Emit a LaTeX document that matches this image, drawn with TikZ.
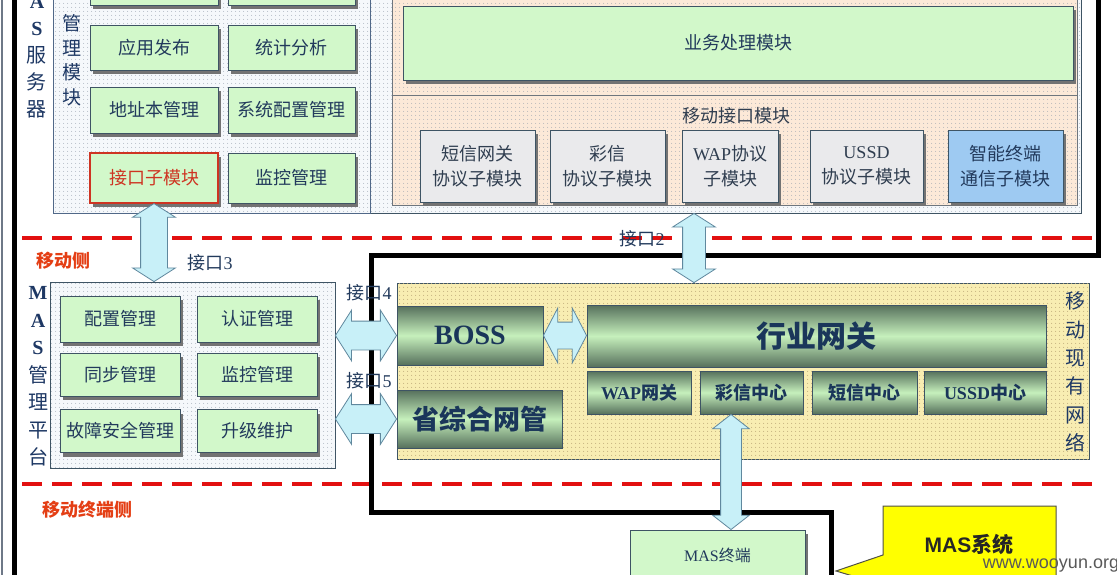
\documentclass[tikz,border=0pt]{standalone}
\usepackage{fontspec}
\setmainfont{Noto Sans CJK SC}
\newfontfamily\latinserif{Liberation Serif}
\newfontfamily\latinsans{Liberation Sans}
\usetikzlibrary{calc,shapes.arrows,shadows,patterns.meta}

\definecolor{boxgreen}{RGB}{210,248,202}
\definecolor{boxline}{RGB}{62,84,100}
\definecolor{boxtext}{RGB}{34,58,92}
\definecolor{graytext}{RGB}{48,62,80}
\definecolor{boxgray}{RGB}{234,234,236}
\definecolor{boxblue}{RGB}{158,202,242}
\definecolor{ifred}{RGB}{206,52,34}
\definecolor{dotbg}{RGB}{245,248,251}
\definecolor{dotfg}{RGB}{150,160,172}
\definecolor{mgrline}{RGB}{80,104,136}
\definecolor{peach}{RGB}{252,233,216}
\definecolor{peachline}{RGB}{110,118,126}
\definecolor{netbg}{RGB}{248,237,178}
\definecolor{netdot}{RGB}{212,180,104}
\definecolor{netlt}{RGB}{198,240,188}
\definecolor{netdk}{RGB}{86,112,92}
\definecolor{nettext}{RGB}{26,54,90}
\definecolor{vtext}{RGB}{30,56,100}
\definecolor{arrfill}{RGB}{200,240,248}
\definecolor{arrline}{RGB}{96,136,158}
\definecolor{sidered}{RGB}{228,62,20}
\definecolor{dashred}{RGB}{226,16,16}
\definecolor{framegray}{RGB}{110,120,135}
\definecolor{callyellow}{RGB}{255,255,0}
\definecolor{callline}{RGB}{80,80,70}

\tikzset{
	modbox/.style={draw=boxline, line width=0.9pt, fill=boxgreen, inner sep=0pt, align=center,
		font=\fontsize{18}{25}\selectfont, text=boxtext,
		drop shadow={shadow xshift=3pt, shadow yshift=-4pt, fill=black!55, opacity=1}},
	protobox/.style={modbox, fill=boxgray, text=graytext},
	netbox/.style={draw=boxline, line width=0.9pt, top color=netdk, bottom color=netdk, middle color=netlt,
		inner sep=0pt, text=nettext, font=\fontsize{18}{22}\selectfont\bfseries},
	dotarea/.style={fill=#1, postaction={pattern={Dots[distance=4pt,radius=0.55pt]}, pattern color=dotfg}},
	vlabel/.style={align=center, inner sep=0pt, text=vtext, font=\fontsize{20}{27}\selectfont},
	sidelabel/.style={text=sidered, font=\fontsize{18}{20}\selectfont\bfseries},
	iflabel/.style={text=boxtext, font=\fontsize{18}{20}\selectfont},
	fatarr/.style={double arrow, draw=arrline, fill=arrfill, line width=0.8pt, inner xsep=0pt,
		double arrow tip angle=115},
	massys/.style={line width=5pt, line join=miter, black},
	sideline/.style={line width=4.5pt, dashred, dash pattern=on 20pt off 10pt},
}

% fat double arrow between two points: [options]{name}{from}{to}
\newcommand{\fatlink}[4][]{%
	\path let \p1=#3, \p2=#4, \n1={veclen(\x2-\x1,\y2-\y1)} in
		node[fatarr,#1,minimum height=\n1] (#2) at ($(\p1)!.5!(\p2)$) {};}

\begin{document}
\begin{tikzpicture}[x=1pt,y=-1pt]
	\useasboundingbox (0,0) rectangle (1117,575);
	\clip (0,0) rectangle (1117,575);
	\fill[white] (0,0) rectangle (1117,575);
	\draw[line width=2pt, framegray] (1.5,0) -- (1.5,575);

	% MAS server
	\node[dotarea=dotbg, draw=boxline, line width=0.8pt, minimum width=1028, minimum height=223, inner sep=0pt] (srv) at (567,101.5) {};
	\node[dotarea=dotbg, draw=mgrline, line width=1pt, minimum width=317, minimum height=223, inner sep=0pt] (mgr) at (211.5,101.5) {};
	\node[dotarea=peach, draw=peachline, line width=0.8pt, minimum width=685, minimum height=210, inner sep=0pt] (mif) at (734.5,100) {};
	\draw[peachline, line width=0.8pt] (392,95) -- (1077,95);
	\node[vlabel] (srvlabel) at (37,43.5) {{\latinserif\bfseries M}\\{\latinserif\bfseries A}\\{\latinserif\bfseries S}\\服\\务\\器};
	\node[vlabel, font=\fontsize{19}{24.5}\selectfont] (mgrlabel) at (72,60.5) {管\\理\\模\\块};

	% management modules
	\node[modbox, minimum width=128, minimum height=45] (topa) at (154,-17.5) {};
	\node[modbox, minimum width=127, minimum height=45] (topb) at (291.5,-17.5) {};
	\node[modbox, minimum width=128, minimum height=45] (pub) at (154,47.5) {应用发布};
	\node[modbox, minimum width=127, minimum height=45] (stat) at (291.5,47.5) {统计分析};
	\node[modbox, minimum width=128, minimum height=46] (addr) at (154,110) {地址本管理};
	\node[modbox, minimum width=127, minimum height=46] (syscfg) at (291.5,110) {系统配置管理};
	\node[modbox, draw=ifred, text=ifred, line width=1.2pt, minimum width=128, minimum height=50] (ifsub) at (154,178) {接口子模块};
	\node[modbox, minimum width=127, minimum height=50] (mon) at (291.5,178) {监控管理};

	% mobile interface modules
	\node[modbox, minimum width=670, minimum height=74] (biz) at (738,43) {业务处理模块};
	\node[iflabel, text=graytext] (miflabel) at (736,116) {移动接口模块};
	\node[protobox, minimum width=115, minimum height=72] (smsp) at (477.5,166) {短信网关\\协议子模块};
	\node[protobox, minimum width=115, minimum height=72] (mmsp) at (607.5,166) {彩信\\协议子模块};
	\node[protobox, minimum width=96, minimum height=72] (wapp) at (730,166) {{\latinserif WAP}协议\\子模块};
	\node[protobox, minimum width=113, minimum height=72] (ussdp) at (866.5,166) {{\latinserif USSD}\\协议子模块};
	\node[protobox, fill=boxblue, text=boxtext, minimum width=115, minimum height=72] (smart) at (1005.5,166) {智能终端\\通信子模块};

	% MAS management platform
	\node[dotarea=dotbg, draw=boxline, line width=0.8pt, minimum width=285, minimum height=186, inner sep=0pt] (plat) at (192.5,375) {};
	\node[vlabel, font=\fontsize{20}{27.5}\selectfont] (platlabel) at (38,376.5) {{\latinserif\bfseries M}\\{\latinserif\bfseries A}\\{\latinserif\bfseries S}\\管\\理\\平\\台};
	\node[modbox, minimum width=120, minimum height=46] (cfg) at (120,319) {配置管理};
	\node[modbox, minimum width=120, minimum height=46] (auth) at (257,319) {认证管理};
	\node[modbox, minimum width=120, minimum height=43] (sync) at (120,374.5) {同步管理};
	\node[modbox, minimum width=120, minimum height=43] (pmon) at (257,374.5) {监控管理};
	\node[modbox, minimum width=120, minimum height=43] (fault) at (120,431) {故障安全管理};
	\node[modbox, minimum width=120, minimum height=43] (upg) at (257,431) {升级维护};

	% existing mobile network
	\node[dotarea=netbg, postaction={pattern={Dots[distance=4pt,radius=0.55pt]}, pattern color=netdot}, draw=boxline, line width=0.8pt, minimum width=692, minimum height=176, inner sep=0pt] (net) at (743,371) {};
	\node[vlabel, font=\fontsize{20}{28.4}\selectfont] (netlabel) at (1075,372) {移\\动\\现\\有\\网\\络};
	\node[netbox, minimum width=146, minimum height=59, font=\latinserif\fontsize{28}{30}\selectfont\bfseries] (boss) at (470,335.5) {BOSS};
	\node[netbox, minimum width=165, minimum height=58, font=\fontsize{27}{30}\selectfont\bfseries] (nms) at (479.5,419) {省综合网管};
	\node[netbox, minimum width=459, minimum height=62, font=\fontsize{30}{32}\selectfont\bfseries] (ind) at (816.5,336) {行业网关};
	\node[netbox, minimum width=104, minimum height=43] (wapgw) at (639,392.5) {{\latinserif WAP}网关};
	\node[netbox, minimum width=103, minimum height=43] (mmsc) at (751.5,392.5) {彩信中心};
	\node[netbox, minimum width=105, minimum height=43] (smsc) at (864.5,392.5) {短信中心};
	\node[netbox, minimum width=122, minimum height=43] (ussdc) at (985,392.5) {{\latinserif USSD}中心};

	% MAS terminal
	\node[modbox, minimum width=175, minimum height=50, font=\fontsize{16}{18}\selectfont] (term) at (717.5,555) {{\latinserif MAS}终端};

	% boundaries
	\draw[sideline] (22,238) -- (1097,238);
	\draw[sideline] (22,484) -- (1102,484);
	\draw[massys] (14,-10) -- (14,585);
	\draw[massys] (1098,-10) -- (1098,255) -- (371,255) -- (371,512) -- (831,512) -- (831,585);

	% interfaces
	\coordinate (ia) at (694,0);
	\coordinate (ib) at (731,0);
	\fatlink[rotate=90, inner ysep=13pt, double arrow head extend=8pt]{arrthree}{(ifsub.south)}{(ifsub.south |- plat.north)}
	\fatlink[rotate=90, inner ysep=11pt, double arrow head extend=10pt]{arrtwo}{(ia |- srv.south)}{(ia |- net.north)}
	\fatlink[inner ysep=14pt, double arrow head extend=11pt]{arrfour}{(boss.west -| plat.east)}{(boss.west)}
	\fatlink[inner ysep=14pt, double arrow head extend=11pt]{arrfive}{(nms.west -| plat.east)}{(nms.west)}
	\fatlink[inner ysep=13pt, double arrow head extend=14pt, double arrow tip angle=125]{arrboss}{(boss.east)}{(boss.east -| ind.west)}
	\fatlink[rotate=90, inner ysep=10pt, double arrow head extend=8pt, double arrow tip angle=104]{arrterm}{(ib |- mmsc.south)}{(ib |- term.north)}

	% labels
	\node[sidelabel] (mobside) at (63,261) {移动侧};
	\node[sidelabel] (termside) at (87,510) {移动终端侧};
	\node[iflabel] (ifthree) at (210,263) {接口{\latinserif 3}};
	\node[iflabel] (iftwo) at (642,239) {接口{\latinserif 2}};
	\node[iflabel] (iffour) at (369,293) {接口{\latinserif 4}};
	\node[iflabel] (iffive) at (369,381) {接口{\latinserif 5}};

	% MAS system callout
	\filldraw[fill=callyellow, draw=callline, line width=1pt] (883,506) -- (1056,506) -- (1056,590) -- (883,590) -- (883,585) -- (836,571) -- (883,555) -- cycle;
	\node[font=\fontsize{21}{24}\selectfont\bfseries, text=black!85] (mastext) at (969,544) {{\latinsans\bfseries MAS}系统};
	\node[font=\latinsans\fontsize{18}{20}\selectfont, text=black!65] (wmark) at (1051,566) {www.wooyun.org};
\end{tikzpicture}
\end{document}
